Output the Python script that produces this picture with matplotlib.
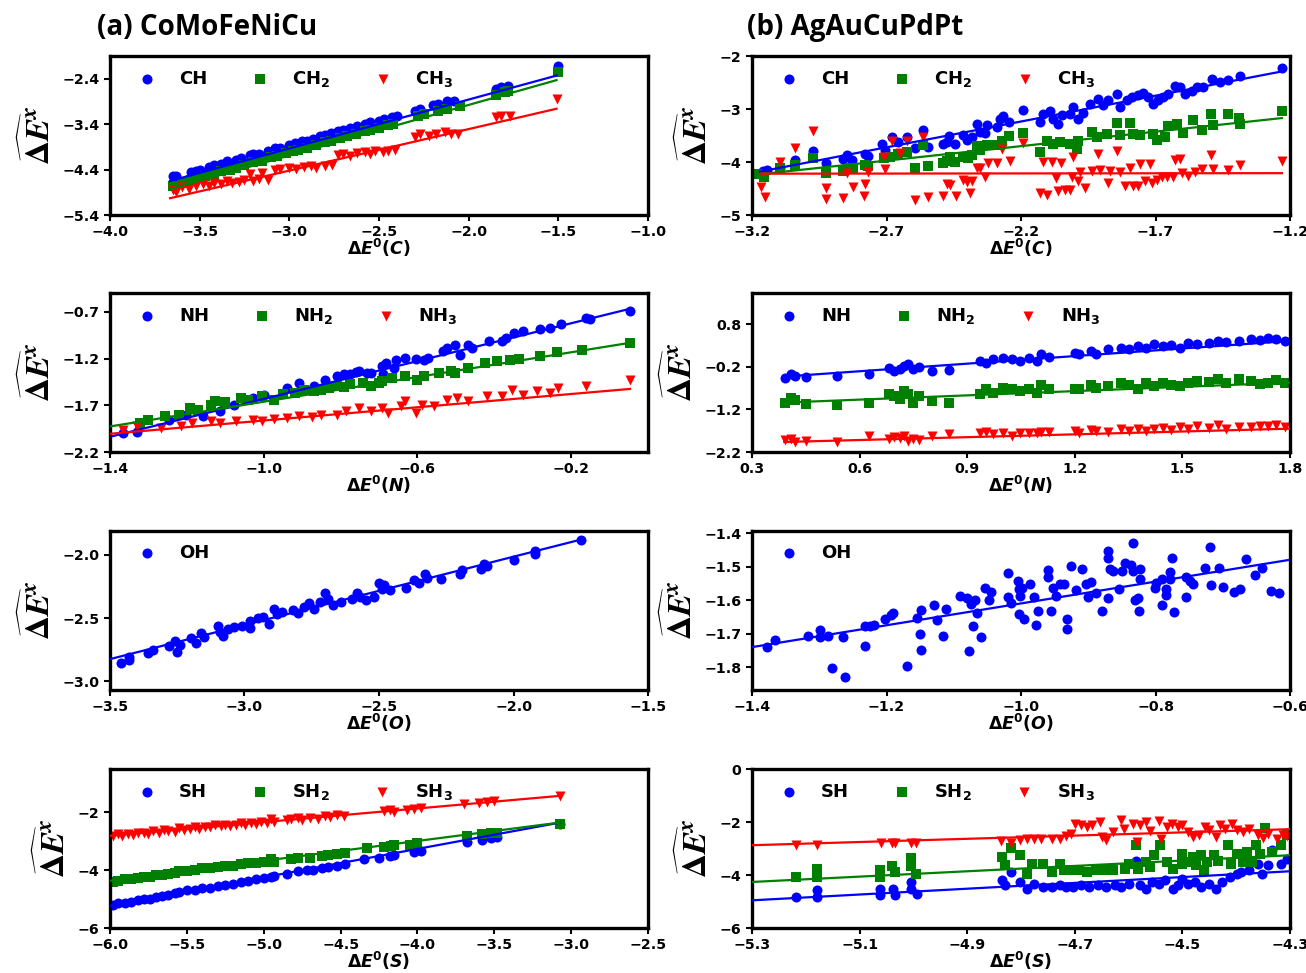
import matplotlib
matplotlib.use('Agg')
import matplotlib.pyplot as plt

plt.rcParams['font.family'] = 'DejaVu Sans'
plt.rcParams['font.weight'] = 'bold'

# (a) CoMoFeNiCu, carbon
a_ch = [(-3.65,-4.55),(-3.63,-4.55),(-3.55,-4.45),(-3.52,-4.42),(-3.50,-4.40),(-3.45,-4.34),(-3.42,-4.30),
        (-3.38,-4.27),(-3.35,-4.22),(-3.30,-4.18),(-3.27,-4.15),(-3.22,-4.08),(-3.20,-4.06),(-3.17,-4.05),
        (-3.12,-3.98),(-3.08,-3.93),(-3.05,-3.92),(-3.00,-3.86),(-2.97,-3.82),(-2.93,-3.78),(-2.90,-3.76),
        (-2.87,-3.72),(-2.83,-3.66),(-2.80,-3.64),(-2.77,-3.60),(-2.73,-3.56),(-2.70,-3.52),(-2.66,-3.48),
        (-2.62,-3.44),(-2.58,-3.40),(-2.55,-3.36),(-2.50,-3.32),(-2.47,-3.28),(-2.43,-3.24),(-2.40,-3.22),
        (-2.30,-3.10),(-2.27,-3.06),(-2.20,-2.98),(-2.17,-2.96),(-2.12,-2.90),(-2.08,-2.88),(-1.85,-2.63),
        (-1.82,-2.58),(-1.78,-2.55),(-1.50,-2.12)]
a_ch2 = [(-3.65,-4.75),(-3.60,-4.70),(-3.55,-4.62),(-3.50,-4.58),(-3.47,-4.55),(-3.42,-4.50),(-3.38,-4.44),
         (-3.33,-4.40),(-3.30,-4.36),(-3.25,-4.30),(-3.20,-4.24),(-3.15,-4.20),(-3.10,-4.12),(-3.07,-4.10),
         (-3.02,-4.04),(-2.98,-4.00),(-2.95,-3.96),(-2.90,-3.92),(-2.85,-3.86),(-2.80,-3.80),(-2.77,-3.76),
         (-2.72,-3.70),(-2.68,-3.66),(-2.63,-3.62),(-2.58,-3.56),(-2.55,-3.52),(-2.50,-3.48),(-2.45,-3.42),
         (-2.42,-3.40),(-2.28,-3.22),(-2.25,-3.18),(-2.17,-3.12),(-2.12,-3.06),(-2.05,-3.00),(-1.85,-2.76),
         (-1.80,-2.70),(-1.78,-2.68),(-1.50,-2.26)]
a_ch3 = [(-3.65,-4.85),(-3.63,-4.90),(-3.60,-4.78),(-3.56,-4.82),(-3.52,-4.75),(-3.48,-4.72),(-3.45,-4.76),
         (-3.42,-4.70),(-3.38,-4.72),(-3.35,-4.66),(-3.32,-4.70),(-3.28,-4.68),(-3.25,-4.62),(-3.22,-4.50),
         (-3.20,-4.66),(-3.17,-4.60),(-3.15,-4.48),(-3.12,-4.62),(-3.08,-4.40),(-3.05,-4.38),(-3.00,-4.36),
         (-2.96,-4.38),(-2.92,-4.34),(-2.88,-4.32),(-2.85,-4.36),(-2.80,-4.32),(-2.76,-4.30),(-2.73,-4.08),
         (-2.70,-4.05),(-2.66,-4.10),(-2.62,-4.04),(-2.58,-4.02),(-2.55,-4.05),(-2.52,-4.00),(-2.48,-4.02),
         (-2.45,-3.98),(-2.41,-3.96),(-2.30,-3.68),(-2.27,-3.62),(-2.22,-3.65),(-2.18,-3.62),(-2.13,-3.58),
         (-2.10,-3.62),(-2.06,-3.62),(-1.85,-3.24),(-1.82,-3.22),(-1.77,-3.22),(-1.51,-2.84)]
a_c_fits = [(-3.665,-4.65,-1.51,-2.33),(-3.665,-4.83,-1.51,-2.43),(-3.665,-5.03,-1.51,-3.06)]

# (b) AgAuCuPdPt, carbon
b_ch = [(-3.158,-4.164),(-3.146,-4.15),(-3.096,-4.12),(-3.04,-3.964),(-2.972,-3.789),(-2.925,-4.014),
        (-2.863,-3.951),(-2.848,-3.87),(-2.829,-3.964),(-2.779,-3.839),(-2.767,-3.889),(-2.718,-3.664),
        (-2.705,-3.777),(-2.68,-3.526),(-2.656,-3.62),(-2.625,-3.526),(-2.594,-3.727),(-2.565,-3.388),
        (-2.544,-3.714),(-2.489,-3.651),(-2.476,-3.62),(-2.466,-3.513),(-2.445,-3.651),(-2.414,-3.495),
        (-2.402,-3.589),(-2.383,-3.526),(-2.364,-3.289),(-2.352,-3.433),(-2.334,-3.451),(-2.328,-3.301),
        (-2.29,-3.339),(-2.278,-3.182),(-2.268,-3.138),(-2.243,-3.245),(-2.194,-3.026),(-2.13,-3.245),
        (-2.117,-3.089),(-2.092,-3.038),(-2.08,-3.182),(-2.061,-3.289),(-2.049,-3.12),(-2.018,-3.089),
        (-2.006,-2.963),(-1.987,-3.182),(-1.969,-3.076),(-1.944,-2.9),(-1.913,-2.807),(-1.894,-2.932),
        (-1.876,-2.838),(-1.845,-2.713),(-1.832,-2.963),(-1.807,-2.838),(-1.789,-2.776),(-1.764,-2.744),
        (-1.746,-2.701),(-1.727,-2.776),(-1.708,-2.9),(-1.69,-2.838),(-1.671,-2.776),(-1.653,-2.713),
        (-1.628,-2.557),(-1.609,-2.588),(-1.591,-2.713),(-1.566,-2.651),(-1.547,-2.588),(-1.522,-2.588),
        (-1.491,-2.432),(-1.461,-2.494),(-1.43,-2.45),(-1.386,-2.369),(-1.23,-2.23)]
b_ch2 = [(-3.181,-4.226),(-3.156,-4.288),(-3.096,-4.12),(-3.04,-4.058),(-2.972,-3.92),(-2.925,-4.2),
         (-2.863,-4.164),(-2.836,-4.12),(-2.823,-4.139),(-2.779,-4.058),(-2.767,-4.076),(-2.711,-3.932),
         (-2.687,-3.901),(-2.656,-3.839),(-2.625,-3.807),(-2.594,-4.12),(-2.565,-3.682),(-2.544,-4.076),
         (-2.489,-4.014),(-2.476,-3.976),(-2.464,-3.901),(-2.445,-3.995),(-2.414,-3.901),(-2.396,-3.932),
         (-2.383,-3.87),(-2.364,-3.701),(-2.352,-3.777),(-2.328,-3.682),(-2.29,-3.682),(-2.272,-3.601),
         (-2.243,-3.513),(-2.194,-3.451),(-2.13,-3.807),(-2.105,-3.601),(-2.08,-3.651),(-2.055,-3.62),
         (-2.018,-3.651),(-1.993,-3.745),(-1.987,-3.601),(-1.938,-3.433),(-1.919,-3.526),(-1.882,-3.464),
         (-1.845,-3.263),(-1.832,-3.495),(-1.795,-3.263),(-1.783,-3.464),(-1.758,-3.495),(-1.708,-3.464),
         (-1.696,-3.589),(-1.665,-3.526),(-1.653,-3.326),(-1.622,-3.276),(-1.597,-3.451),(-1.56,-3.213),
         (-1.529,-3.401),(-1.495,-3.101),(-1.485,-3.307),(-1.43,-3.101),(-1.389,-3.163),(-1.386,-3.276),
         (-1.23,-3.03)]
b_ch3 = [(-3.168,-4.464),(-3.151,-4.652),(-3.096,-3.995),(-3.04,-3.726),(-2.974,-3.413),(-2.925,-4.495),
         (-2.925,-4.696),(-2.863,-4.683),(-2.848,-4.214),(-2.826,-4.464),(-2.779,-4.42),(-2.783,-4.639),
         (-2.767,-4.183),(-2.711,-3.901),(-2.705,-4.139),(-2.68,-3.601),(-2.649,-3.826),(-2.625,-3.601),
         (-2.594,-4.714),(-2.565,-3.526),(-2.544,-4.664),(-2.489,-4.639),(-2.476,-4.414),(-2.464,-4.433),
         (-2.442,-4.639),(-2.414,-4.339),(-2.402,-4.37),(-2.39,-4.589),(-2.383,-4.352),(-2.364,-4.12),
         (-2.352,-4.12),(-2.334,-4.289),(-2.321,-4.026),(-2.29,-4.026),(-2.272,-3.745),(-2.24,-3.976),
         (-2.194,-3.639),(-2.117,-3.995),(-2.086,-3.995),(-2.053,-4.014),(-2.07,-4.308),(-2.13,-4.589),
         (-2.105,-4.62),(-2.061,-4.539),(-2.037,-4.526),(-2.018,-4.526),(-2.012,-4.277),(-2.006,-3.914),
         (-1.987,-4.352),(-1.981,-4.183),(-1.962,-4.495),(-1.938,-4.164),(-1.913,-3.839),(-1.907,-4.151),
         (-1.876,-4.402),(-1.87,-4.164),(-1.845,-3.789),(-1.832,-4.183),(-1.814,-4.452),(-1.795,-4.108),
         (-1.783,-4.452),(-1.758,-4.033),(-1.764,-4.452),(-1.739,-4.352),(-1.721,-4.045),(-1.715,-4.389),
         (-1.696,-4.339),(-1.677,-4.289),(-1.659,-4.277),(-1.628,-3.964),(-1.634,-4.277),(-1.609,-3.951),
         (-1.603,-4.214),(-1.578,-4.264),(-1.554,-4.183),(-1.529,-4.139),(-1.495,-3.87),(-1.488,-4.139),
         (-1.43,-4.151),(-1.386,-4.058),(-1.23,-3.976)]
b_c_fits = [(-3.17,-4.18,-1.23,-2.29),(-3.17,-4.23,-1.23,-3.17),(-3.17,-4.22,-1.23,-4.21)]

# (a) nitrogen
a_nh = [(-1.367,-1.996),(-1.329,-1.989),(-1.247,-1.854),(-1.203,-1.8),(-1.159,-1.818),(-1.115,-1.764),
        (-1.077,-1.693),(-1.027,-1.621),(-1.0,-1.586),(-0.94,-1.514),(-0.907,-1.461),(-0.869,-1.496),
        (-0.841,-1.425),(-0.808,-1.389),(-0.79,-1.37),(-0.775,-1.361),(-0.76,-1.34),(-0.753,-1.336),
        (-0.732,-1.354),(-0.72,-1.36),(-0.69,-1.37),(-0.693,-1.282),(-0.682,-1.246),(-0.66,-1.3),
        (-0.655,-1.211),(-0.633,-1.193),(-0.605,-1.204),(-0.584,-1.211),(-0.573,-1.193),(-0.534,-1.121),
        (-0.523,-1.086),(-0.501,-1.05),(-0.49,-1.157),(-0.468,-1.05),(-0.458,-1.086),(-0.414,-1.014),
        (-0.381,-1.014),(-0.37,-0.979),(-0.348,-0.925),(-0.326,-0.907),(-0.282,-0.889),(-0.255,-0.871),
        (-0.227,-0.836),(-0.162,-0.764),(-0.151,-0.782),(-0.047,-0.693)]
a_nh2 = [(-1.323,-1.889),(-1.30,-1.86),(-1.258,-1.811),(-1.22,-1.80),(-1.192,-1.729),(-1.17,-1.75),
         (-1.137,-1.693),(-1.126,-1.657),(-1.10,-1.66),(-1.06,-1.621),(-1.04,-1.64),(-1.005,-1.604),
         (-0.973,-1.639),(-0.95,-1.58),(-0.918,-1.568),(-0.896,-1.532),(-0.87,-1.55),(-0.852,-1.532),
         (-0.83,-1.52),(-0.808,-1.489),(-0.79,-1.50),(-0.775,-1.468),(-0.742,-1.461),(-0.721,-1.496),
         (-0.70,-1.46),(-0.693,-1.443),(-0.666,-1.407),(-0.633,-1.389),(-0.6,-1.425),(-0.584,-1.389),
         (-0.545,-1.354),(-0.512,-1.336),(-0.501,-1.354),(-0.468,-1.3),(-0.425,-1.246),(-0.392,-1.229),
         (-0.359,-1.211),(-0.337,-1.2),(-0.282,-1.168),(-0.238,-1.132),(-0.173,-1.104),(-0.047,-1.032)]
a_nh3 = [(-1.367,-1.968),(-1.329,-1.925),(-1.268,-1.943),(-1.214,-1.925),(-1.186,-1.889),(-1.137,-1.871),
         (-1.115,-1.889),(-1.071,-1.871),(-1.027,-1.854),(-1.005,-1.871),(-0.973,-1.846),(-0.94,-1.836),
         (-0.907,-1.818),(-0.874,-1.825),(-0.852,-1.8),(-0.808,-1.8),(-0.786,-1.764),(-0.753,-1.729),
         (-0.721,-1.764),(-0.693,-1.729),(-0.677,-1.782),(-0.644,-1.711),(-0.633,-1.657),(-0.605,-1.782),
         (-0.589,-1.693),(-0.556,-1.711),(-0.523,-1.639),(-0.496,-1.621),(-0.468,-1.657),(-0.419,-1.604),
         (-0.381,-1.604),(-0.353,-1.532),(-0.326,-1.586),(-0.288,-1.55),(-0.255,-1.568),(-0.233,-1.514),
         (-0.162,-1.496),(-0.047,-1.425)]
a_n_fits = [(-1.395,-2.032,-0.047,-0.668),(-1.398,-1.925,-0.047,-1.032),(-1.398,-2.004,-0.047,-1.525)]

# (b) nitrogen
b_n_x = [0.393,0.408,0.42,0.451,0.537,0.627,0.683,0.695,0.713,0.725,0.736,0.748,0.766,0.801,0.85,0.936,
         0.953,0.971,1.0,1.024,1.047,1.071,1.094,1.106,1.129,1.2,1.211,1.246,1.258,1.293,1.329,1.352,
         1.375,1.399,1.422,1.446,1.469,1.493,1.516,1.54,1.575,1.598,1.622,1.657,1.692,1.716,1.739,1.762,1.786]
b_nh_y = [-0.453,-0.375,-0.414,-0.437,-0.414,-0.375,-0.218,-0.296,-0.257,-0.179,-0.14,-0.257,-0.195,
          -0.296,-0.273,-0.061,-0.101,-0.022,0.017,-0.022,-0.061,0.017,-0.061,0.095,0.04,0.134,0.095,
          0.174,0.095,0.213,0.252,0.213,0.291,0.252,0.33,0.291,0.307,0.252,0.354,0.33,0.369,0.408,0.385,
          0.408,0.463,0.432,0.487,0.448,0.408]
b_nh2_y = [-1.056,-0.923,-0.98,-1.079,-1.103,-1.056,-0.844,-0.884,-0.962,-0.766,-0.84,-1.04,-0.884,
           -1.001,-1.04,-0.844,-0.727,-0.805,-0.688,-0.727,-0.766,-0.727,-0.805,-0.633,-0.711,-0.727,
           -0.711,-0.633,-0.688,-0.649,-0.57,-0.633,-0.727,-0.57,-0.649,-0.586,-0.633,-0.649,-0.57,-0.531,
           -0.555,-0.492,-0.57,-0.492,-0.531,-0.609,-0.57,-0.52,-0.57]
b_nh3_y = [-1.917,-1.886,-1.964,-1.941,-1.964,-1.823,-1.886,-1.839,-1.862,-1.823,-1.941,-1.886,-1.917,
           -1.823,-1.784,-1.761,-1.729,-1.784,-1.761,-1.823,-1.745,-1.761,-1.761,-1.729,-1.729,-1.706,
           -1.745,-1.682,-1.706,-1.729,-1.667,-1.706,-1.667,-1.706,-1.651,-1.628,-1.682,-1.604,-1.651,
           -1.588,-1.628,-1.573,-1.651,-1.604,-1.62,-1.59,-1.60,-1.57,-1.61]
b_n_fits = [(0.39,-0.429,1.8,0.408),(0.39,-1.04,1.8,-0.57),(0.39,-1.964,1.8,-1.651)]

# (a) oxygen
a_oh = [(-3.46,-2.86),(-3.43,-2.83),(-3.43,-2.81),(-3.36,-2.78),(-3.34,-2.75),(-3.28,-2.72),(-3.26,-2.68),
        (-3.25,-2.77),(-3.24,-2.71),(-3.20,-2.66),(-3.18,-2.70),(-3.16,-2.62),(-3.15,-2.65),(-3.10,-2.56),
        (-3.09,-2.61),(-3.08,-2.64),(-3.06,-2.59),(-3.04,-2.57),(-3.01,-2.56),(-2.98,-2.58),(-2.98,-2.52),
        (-2.95,-2.50),(-2.93,-2.49),(-2.91,-2.55),(-2.89,-2.43),(-2.88,-2.47),(-2.86,-2.45),(-2.82,-2.44),
        (-2.80,-2.46),(-2.78,-2.41),(-2.76,-2.38),(-2.74,-2.43),(-2.72,-2.37),(-2.70,-2.30),(-2.69,-2.35),
        (-2.67,-2.40),(-2.64,-2.37),(-2.60,-2.35),(-2.58,-2.30),(-2.57,-2.33),(-2.55,-2.36),(-2.52,-2.33),
        (-2.50,-2.22),(-2.49,-2.27),(-2.48,-2.24),(-2.46,-2.28),(-2.40,-2.26),(-2.37,-2.20),(-2.35,-2.22),
        (-2.33,-2.15),(-2.32,-2.18),(-2.27,-2.19),(-2.20,-2.15),(-2.19,-2.12),(-2.12,-2.11),(-2.11,-2.07),
        (-2.10,-2.09),(-2.00,-2.04),(-1.92,-1.99),(-1.92,-1.97),(-1.75,-1.88)]
a_o_fits = [(-3.497,-2.824,-1.749,-1.878)]

# (b) oxygen
b_oh = [(-1.378,-1.741),(-1.366,-1.72),(-1.316,-1.706),(-1.299,-1.688),(-1.299,-1.711),(-1.287,-1.706),
        (-1.281,-1.801),(-1.264,-1.711),(-1.262,-1.829),(-1.232,-1.738),(-1.232,-1.676),(-1.224,-1.676),
        (-1.219,-1.673),(-1.202,-1.655),(-1.194,-1.645),(-1.19,-1.638),(-1.169,-1.795),(-1.155,-1.652),
        (-1.15,-1.701),(-1.149,-1.748),(-1.148,-1.629),(-1.13,-1.615),(-1.125,-1.658),(-1.116,-1.706),
        (-1.111,-1.625),(-1.091,-1.586),(-1.08,-1.594),(-1.078,-1.751),(-1.075,-1.611),(-1.072,-1.676),
        (-1.068,-1.599),(-1.065,-1.638),(-1.06,-1.711),(-1.053,-1.562),(-1.048,-1.599),(-1.044,-1.575),
        (-1.019,-1.518),(-1.019,-1.589),(-1.015,-1.607),(-1.005,-1.543),(-1.003,-1.567),(-1.002,-1.587),
        (-1.003,-1.642),(-0.999,-1.564),(-0.995,-1.655),(-0.986,-1.552),(-0.981,-1.589),(-0.978,-1.675),
        (-0.975,-1.632),(-0.96,-1.51),(-0.96,-1.532),(-0.955,-1.632),(-0.952,-1.564),(-0.948,-1.587),
        (-0.942,-1.552),(-0.936,-1.552),(-0.931,-1.655),(-0.931,-1.686),(-0.926,-1.499),(-0.918,-1.57),
        (-0.91,-1.508),(-0.904,-1.552),(-0.901,-1.589),(-0.896,-1.545),(-0.888,-1.579),(-0.88,-1.632),
        (-0.871,-1.474),(-0.87,-1.453),(-0.87,-1.594),(-0.868,-1.506),(-0.863,-1.512),(-0.855,-1.567),
        (-0.85,-1.513),(-0.845,-1.488),(-0.837,-1.496),(-0.833,-1.513),(-0.833,-1.43),(-0.831,-1.599),
        (-0.826,-1.592),(-0.825,-1.632),(-0.823,-1.506),(-0.823,-1.536),(-0.801,-1.562),(-0.8,-1.548),
        (-0.791,-1.614),(-0.79,-1.536),(-0.784,-1.567),(-0.784,-1.584),(-0.778,-1.515),(-0.778,-1.536),
        (-0.775,-1.474),(-0.772,-1.635),(-0.755,-1.532),(-0.754,-1.589),(-0.749,-1.541),(-0.745,-1.552),
        (-0.726,-1.503),(-0.719,-1.44),(-0.718,-1.554),(-0.706,-1.503),(-0.7,-1.559),(-0.683,-1.575),
        (-0.675,-1.565),(-0.665,-1.478),(-0.652,-1.524),(-0.641,-1.503),(-0.628,-1.572),(-0.616,-1.577)]
b_o_fits = [(-1.4,-1.74,-0.6,-1.479)]

# (a) sulfur
a_sh = [(-5.98,-5.20),(-5.95,-5.15),(-5.90,-5.12),(-5.86,-5.10),(-5.82,-5.04),(-5.78,-5.00),(-5.74,-4.98),
        (-5.70,-4.92),(-5.66,-4.88),(-5.62,-4.86),(-5.58,-4.80),(-5.55,-4.74),(-5.50,-4.70),(-5.45,-4.68),
        (-5.40,-4.62),(-5.35,-4.60),(-5.30,-4.54),(-5.25,-4.50),(-5.20,-4.46),(-5.15,-4.40),(-5.10,-4.38),
        (-5.05,-4.32),(-5.00,-4.28),(-4.95,-4.24),(-4.93,-4.20),(-4.85,-4.12),(-4.78,-4.04),(-4.72,-4.00),
        (-4.68,-3.98),(-4.62,-3.92),(-4.58,-3.88),(-4.52,-3.84),(-4.47,-3.80),(-4.35,-3.62),(-4.25,-3.56),
        (-4.18,-3.50),(-4.15,-3.48),(-4.02,-3.36),(-3.98,-3.34),(-3.68,-3.02),(-3.58,-2.94),(-3.52,-2.88),
        (-3.48,-2.84),(-3.07,-2.40)]
a_sh2 = [(-5.98,-4.40),(-5.95,-4.36),(-5.90,-4.32),(-5.86,-4.30),(-5.82,-4.26),(-5.78,-4.24),(-5.74,-4.22),
         (-5.70,-4.18),(-5.66,-4.16),(-5.62,-4.12),(-5.58,-4.10),(-5.55,-4.02),(-5.50,-4.02),(-5.45,-4.00),
         (-5.40,-3.94),(-5.35,-3.94),(-5.30,-3.90),(-5.25,-3.86),(-5.20,-3.84),(-5.15,-3.80),(-5.10,-3.76),
         (-5.05,-3.76),(-5.00,-3.72),(-4.95,-3.60),(-4.93,-3.70),(-4.82,-3.60),(-4.78,-3.58),(-4.70,-3.56),
         (-4.62,-3.50),(-4.58,-3.48),(-4.52,-3.44),(-4.47,-3.42),(-4.33,-3.22),(-4.22,-3.18),(-4.17,-3.16),
         (-4.15,-3.14),(-4.05,-3.12),(-4.00,-3.06),(-3.68,-2.80),(-3.58,-2.76),(-3.52,-2.72),(-3.48,-2.70),
         (-3.07,-2.40)]
a_sh3 = [(-5.98,-2.80),(-5.95,-2.76),(-5.92,-2.82),(-5.88,-2.74),(-5.85,-2.78),(-5.82,-2.72),(-5.78,-2.70),
         (-5.75,-2.74),(-5.72,-2.66),(-5.68,-2.70),(-5.65,-2.62),(-5.62,-2.66),(-5.58,-2.68),(-5.55,-2.55),
         (-5.52,-2.62),(-5.48,-2.56),(-5.45,-2.50),(-5.42,-2.58),(-5.38,-2.50),(-5.35,-2.52),(-5.32,-2.45),
         (-5.28,-2.48),(-5.25,-2.44),(-5.22,-2.46),(-5.18,-2.42),(-5.15,-2.38),(-5.12,-2.44),(-5.08,-2.36),
         (-5.05,-2.40),(-5.02,-2.34),(-4.98,-2.38),(-4.95,-2.24),(-4.93,-2.32),(-4.85,-2.26),(-4.82,-2.22),
         (-4.78,-2.20),(-4.75,-2.26),(-4.70,-2.18),(-4.65,-2.22),(-4.60,-2.12),(-4.57,-2.16),(-4.52,-2.10),
         (-4.48,-2.12),(-4.22,-1.96),(-4.18,-1.92),(-4.15,-1.98),(-4.07,-1.90),(-4.02,-1.88),(-3.98,-1.86),
         (-3.70,-1.70),(-3.60,-1.66),(-3.55,-1.64),(-3.50,-1.60),(-3.07,-1.42)]
a_s_fits = [(-6.0,-5.228,-3.068,-2.346),(-6.0,-4.363,-3.068,-2.346),(-6.0,-2.807,-3.068,-1.424)]

# (b) sulfur
b_sh = [(-5.219,-4.828),(-5.18,-4.828),(-5.18,-4.576),(-5.062,-4.513),(-5.062,-4.765),(-5.038,-4.513),
        (-5.034,-4.765),(-5.005,-4.261),(-5.004,-4.513),(-4.994,-4.702),(-4.835,-4.198),(-4.829,-4.387),
        (-4.819,-3.883),(-4.802,-4.261),(-4.788,-4.513),(-4.775,-4.324),(-4.759,-4.45),(-4.743,-4.45),
        (-4.728,-4.387),(-4.716,-4.45),(-4.704,-4.45),(-4.689,-4.387),(-4.673,-4.45),(-4.657,-4.387),
        (-4.642,-4.45),(-4.626,-4.387),(-4.614,-4.45),(-4.599,-4.324),(-4.587,-3.479),(-4.579,-4.387),
        (-4.567,-4.513),(-4.556,-4.261),(-4.544,-4.324),(-4.532,-4.198),(-4.517,-4.513),(-4.509,-4.387),
        (-4.501,-4.135),(-4.489,-4.324),(-4.477,-4.261),(-4.466,-4.45),(-4.45,-4.324),(-4.438,-4.513),
        (-4.427,-4.261),(-4.411,-4.072),(-4.399,-3.946),(-4.391,-3.883),(-4.376,-3.819),(-4.36,-3.567),
        (-4.352,-3.946),(-4.341,-3.63),(-4.333,-3.063),(-4.317,-3.567),(-4.305,-3.378)]
b_sh2 = [(-5.219,-4.072),(-5.18,-4.072),(-5.18,-3.756),(-5.062,-3.819),(-5.062,-4.072),(-5.04,-3.656),
         (-5.034,-3.883),(-5.004,-3.353),(-5.004,-3.656),(-4.996,-3.946),(-4.835,-3.315),(-4.829,-3.63),
         (-4.819,-2.975),(-4.802,-3.252),(-4.788,-3.946),(-4.779,-3.567),(-4.759,-3.567),(-4.743,-3.883),
         (-4.728,-3.567),(-4.72,-3.819),(-4.708,-3.819),(-4.692,-3.819),(-4.677,-3.883),(-4.661,-3.819),
         (-4.646,-3.819),(-4.63,-3.819),(-4.606,-3.756),(-4.60,-3.60),(-4.587,-2.874),(-4.583,-3.756),
         (-4.567,-3.504),(-4.56,-3.70),(-4.552,-3.252),(-4.542,-2.874),(-4.528,-3.504),(-4.517,-3.756),
         (-4.501,-3.189),(-4.50,-3.60),(-4.493,-3.504),(-4.481,-3.315),(-4.474,-3.63),(-4.466,-3.252),
         (-4.46,-3.80),(-4.454,-3.504),(-4.442,-3.252),(-4.434,-3.479),(-4.415,-2.874),(-4.41,-3.60),
         (-4.399,-3.189),(-4.388,-3.504),(-4.38,-3.126),(-4.37,-3.50),(-4.364,-2.874),(-4.356,-3.189),
         (-4.347,-2.219),(-4.334,-3.126),(-4.317,-2.874),(-4.305,-2.496)]
b_sh3 = [(-5.219,-2.849),(-5.18,-2.849),(-5.06,-2.773),(-5.04,-2.773),(-5.034,-2.773),(-5.004,-2.773),
         (-4.996,-2.773),(-4.837,-2.723),(-4.819,-2.773),(-4.802,-2.685),(-4.788,-2.647),(-4.775,-2.622),
         (-4.763,-2.622),(-4.743,-2.647),(-4.728,-2.622),(-4.716,-2.521),(-4.708,-2.433),(-4.7,-2.055),
         (-4.689,-2.118),(-4.678,-2.181),(-4.669,-2.118),(-4.653,-1.992),(-4.649,-2.559),(-4.642,-2.685),
         (-4.63,-2.37),(-4.614,-1.929),(-4.608,-2.244),(-4.591,-2.055),(-4.585,-2.748),(-4.579,-2.118),
         (-4.567,-1.992),(-4.56,-2.345),(-4.544,-1.966),(-4.54,-2.622),(-4.528,-2.181),(-4.519,-2.055),
         (-4.509,-2.181),(-4.501,-2.118),(-4.489,-2.37),(-4.481,-2.559),(-4.47,-2.496),(-4.458,-2.181),
         (-4.45,-2.307),(-4.438,-2.559),(-4.431,-2.118),(-4.42,-2.244),(-4.407,-2.055),(-4.399,-2.307),
         (-4.388,-2.37),(-4.376,-2.269),(-4.36,-2.496),(-4.35,-2.597),(-4.341,-2.433),(-4.325,-2.622),
         (-4.313,-2.496),(-4.305,-2.521)]
b_s_fits = [(-5.3,-4.954,-4.3,-3.857),(-5.3,-4.261,-4.3,-3.252),(-5.3,-2.874,-4.3,-2.269)]

colors = ['blue', 'green', 'red']
markers = ['o', 's', 'v']


def pairs(pts):
    return [p[0] for p in pts], [p[1] for p in pts]


# panel table: (series, labels, fits, xlim, xticks, ylim, yticks, element)
panels = [
    ([pairs(a_ch), pairs(a_ch2), pairs(a_ch3)], ['CH', 'CH$_2$', 'CH$_3$'], a_c_fits,
     (-4.0, -1.0), [-4.0, -3.5, -3.0, -2.5, -2.0, -1.5, -1.0], (-5.4, -1.9), [-5.4, -4.4, -3.4, -2.4], 'C'),
    ([pairs(b_ch), pairs(b_ch2), pairs(b_ch3)], ['CH', 'CH$_2$', 'CH$_3$'], b_c_fits,
     (-3.2, -1.2), [-3.2, -2.7, -2.2, -1.7, -1.2], (-5, -2), [-5, -4, -3, -2], 'C'),
    ([pairs(a_nh), pairs(a_nh2), pairs(a_nh3)], ['NH', 'NH$_2$', 'NH$_3$'], a_n_fits,
     (-1.4, 0.0), [-1.4, -1.0, -0.6, -0.2], (-2.2, -0.5), [-2.2, -1.7, -1.2, -0.7], 'N'),
    ([(b_n_x, b_nh_y), (b_n_x, b_nh2_y), (b_n_x, b_nh3_y)], ['NH', 'NH$_2$', 'NH$_3$'], b_n_fits,
     (0.3, 1.8), [0.3, 0.6, 0.9, 1.2, 1.5, 1.8], (-2.2, 1.53), [-2.2, -1.2, -0.2, 0.8], 'N'),
    ([pairs(a_oh)], ['OH'], a_o_fits,
     (-3.5, -1.5), [-3.5, -3.0, -2.5, -2.0, -1.5], (-3.07, -1.81), [-3.0, -2.5, -2.0], 'O'),
    ([pairs(b_oh)], ['OH'], b_o_fits,
     (-1.4, -0.6), [-1.4, -1.2, -1.0, -0.8, -0.6], (-1.868, -1.393), [-1.8, -1.7, -1.6, -1.5, -1.4], 'O'),
    ([pairs(a_sh), pairs(a_sh2), pairs(a_sh3)], ['SH', 'SH$_2$', 'SH$_3$'], a_s_fits,
     (-6.0, -2.5), [-6.0, -5.5, -5.0, -4.5, -4.0, -3.5, -3.0, -2.5], (-6, -0.5), [-6, -4, -2], 'S'),
    ([pairs(b_sh), pairs(b_sh2), pairs(b_sh3)], ['SH', 'SH$_2$', 'SH$_3$'], b_s_fits,
     (-5.3, -4.3), [-5.3, -5.1, -4.9, -4.7, -4.5, -4.3], (-6, 0), [-6, -4, -2, 0], 'S'),
]

fig = plt.figure(figsize=(13.06, 9.73), dpi=100)
row_bottoms = [0.779, 0.5354, 0.2909, 0.0462]
col_lefts = [0.0842, 0.5758]

for k, (series, labels, fits, xlim, xticks, ylim, yticks, elem) in enumerate(panels):
    row, col = k // 2, k % 2
    ax = fig.add_axes([col_lefts[col], row_bottoms[row], 0.412, 0.1634])
    for i, (xs, ys) in enumerate(series):
        ax.scatter(xs, ys, s=52, c=colors[i], marker=markers[i], label=labels[i],
                   linewidths=0, zorder=2)
    for i, (x0, y0, x1, y1) in enumerate(fits):
        ax.plot([x0, x1], [y0, y1], color=colors[i], lw=1.6, zorder=3)
    ax.set_xlim(*xlim)
    ax.set_ylim(*ylim)
    ax.set_xticks(xticks)
    ax.set_yticks(yticks)
    ax.tick_params(labelsize=10.2, width=1.5, length=4)
    for lab in ax.get_xticklabels() + ax.get_yticklabels():
        lab.set_fontweight('bold')
    for sp in ax.spines.values():
        sp.set_linewidth(2.4)
    ax.set_xlabel(r'$\mathbf{\Delta}\boldsymbol{E}^{\mathbf{0}}\boldsymbol{(' + elem + ')}$',
                  fontsize=12.5, labelpad=-1.5, math_fontfamily='dejavusans')
    ax.set_ylabel(r'$\boldsymbol{\widehat{\Delta E}^{x}}$', fontsize=24, labelpad=4,
                  math_fontfamily='stix')
    ax.legend(loc='upper left', bbox_to_anchor=(0.028, 1.0), ncol=3, frameon=False,
              handlelength=1.0, handletextpad=1.3, columnspacing=2.4, borderaxespad=0.3,
              prop={'size': 13, 'weight': 'bold'}, scatterpoints=1)

fig.text(0.074, 0.972, '(a) CoMoFeNiCu', fontsize=20, fontweight='bold', family='Open Sans',
         va='center', ha='left')
fig.text(0.572, 0.972, '(b) AgAuCuPdPt', fontsize=20, fontweight='bold', family='Open Sans',
         va='center', ha='left')

fig.savefig('out.png', dpi=100)
